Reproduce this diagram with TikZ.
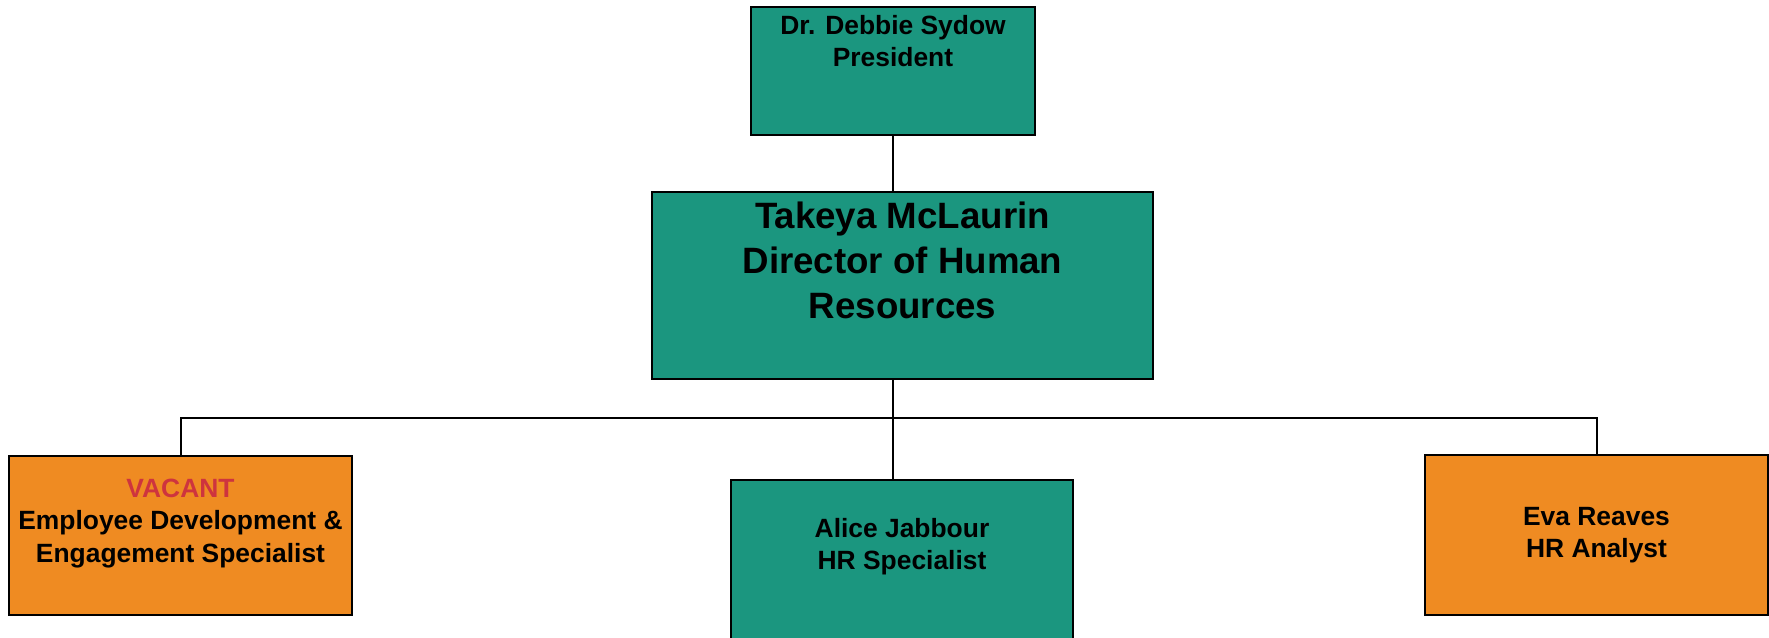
\documentclass[tikz,border=0pt]{standalone}
\usepackage{fontspec}
\setmainfont{Liberation Sans}
\usepackage{xcolor}
\usetikzlibrary{positioning}
\definecolor{hrTeal}{HTML}{1B967F}
\definecolor{hrOrange}{HTML}{EF8B22}
\definecolor{hrRed}{HTML}{CE343E}
\tikzstyle{greenbox}  = [rectangle,draw,line width=1.6pt,inner sep=0pt,fill=hrTeal]
\tikzstyle{orangebox} = [rectangle,draw,line width=1.6pt,inner sep=0pt,fill=hrOrange]
\tikzstyle{boxtext}   = [anchor=north,align=center,inner sep=0pt,font=\bfseries\fontsize{19.8pt}{24.2pt}\selectfont]
\tikzstyle{wire}      = [line width=1.5pt]

\begin{document}
\begin{tikzpicture}[x=0.75pt,y=-0.75pt]
	\useasboundingbox (0,0) rectangle (1769,637);
	\clip (0,0) rectangle (1769,637);
	
	% boxes
	\node[greenbox, minimum width=213pt,  minimum height=96pt]   (pres)  at (893,71)     {};
	\node[greenbox, minimum width=375.8pt,minimum height=140.3pt] (dir)  at (902.5,285.5) {};
	\node[orangebox,minimum width=257.3pt,minimum height=119.3pt] (vac)  at (180.5,535.5) {};
	\node[greenbox, minimum width=256.5pt,minimum height=135pt]   (alice) at (902,570)   {};
	\node[orangebox,minimum width=257.3pt,minimum height=120pt]   (eva)  at (1596.5,535) {};
	
	% texts
	\node[boxtext,below=6.8pt of pres.north]  (prestxt)  {Dr. Debbie Sydow\\President};
	\node[boxtext,below=8pt of dir.north,font=\bfseries\fontsize{27.5pt}{33.75pt}\selectfont] (dirtxt) {Takeya McLaurin\\Director of Human\\Resources};
	\node[boxtext,below=18pt of vac.north]  (vactxt)   {\textcolor{hrRed}{VACANT}\\Employee Development \&\\Engagement Specialist};
	\node[boxtext,below=29.4pt of alice.north] (alicetxt) {Alice Jabbour\\HR Specialist};
	\node[boxtext,below=39.6pt of eva.north]  (evatxt)   {Eva Reaves\\HR Analyst};
	
	% connectors
	\coordinate (bus) at (893,418);
	\draw[wire] (pres.south) -- (pres.south |- dir.north);
	\draw[wire] (pres.south |- dir.south) -- (bus);
	\draw[wire] (bus) -| (vac.north);
	\draw[wire] (bus) -| (eva.north);
	\draw[wire] (bus) -- (bus |- alice.north);
\end{tikzpicture}
\end{document}
